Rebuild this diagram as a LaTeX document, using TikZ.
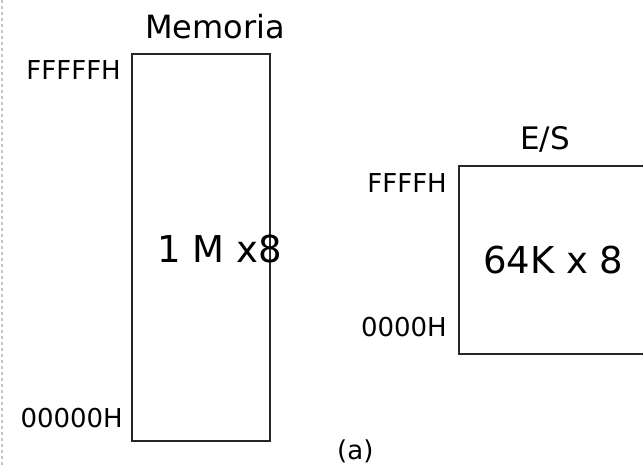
\documentclass[tikz,border=0pt]{standalone}
\usepackage{fontspec}
\setmainfont{DejaVu Sans}

\begin{document}
\begin{tikzpicture}[
  x=1pt, y=-1pt,
  bloque/.style={draw=black!85, line width=1.3pt},
  titulo/.style={inner sep=0pt, anchor=base west, font=\fontsize{32}{36}\selectfont},
  capacidad/.style={inner sep=0pt, anchor=base west, font=\fontsize{37}{42}\selectfont},
  direccion/.style={inner sep=0pt, anchor=base east, font=\fontsize{26}{30}\selectfont}
]
  \useasboundingbox (0,0) rectangle (643,467);
  \draw[gray!45, line width=1.5pt, dash pattern=on 2.5pt off 3.5pt] (2,0) -- (2,467);

  % memoria
  \draw[bloque] (132,54) rectangle (270,441);
  \node[titulo] (memoria) at (145,38) {Memoria};
  \node[capacidad] (mcap) at (157,262) {1 M x8};
  \node[direccion] (mtop) at (121,79) {FFFFFH};
  \node[direccion] (mbot) at (123,427) {00000H};

  % entrada/salida
  \draw[bloque] (459,166) rectangle (670,354);
  \node[titulo, font=\fontsize{31}{36}\selectfont] (es) at (520,149) {E/S};
  \node[capacidad] (escap) at (483,273) {64K x 8};
  \node[direccion] (estop) at (447,192) {FFFFH};
  \node[direccion] (esbot) at (447,336) {0000H};

  \node[inner sep=0pt, anchor=base west, font=\fontsize{26}{30}\selectfont] (inciso) at (337,459) {(a)};
\end{tikzpicture}
\end{document}
